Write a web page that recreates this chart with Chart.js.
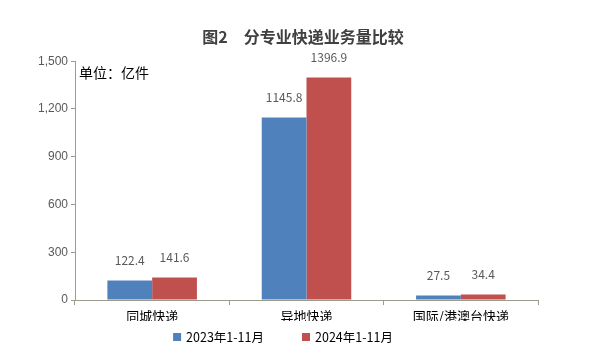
<!DOCTYPE html>
<html>
<head>
<meta charset="utf-8">
<script src="https://cdn.jsdelivr.net/npm/chart.js@4.4.1/dist/chart.umd.min.js"></script>
<style>
  html, body { margin: 0; padding: 0; background: #ffffff; }
  #wrap { width: 606px; height: 361px; }
</style>
</head>
<body>
<div id="wrap"><canvas id="c" width="606" height="361"></canvas></div>
<script>
const categories = ['同城快递', '异地快递', '国际/港澳台快递'];
const series2023 = [122.4, 1145.8, 27.5];
const series2024 = [141.6, 1396.9, 34.4];
const seriesNames = ['2023年1-11月', '2024年1-11月'];
const yTicks = [0, 300, 600, 900, 1200, 1500];
const titleText = '图2\u3000分专业快递业务量比较';
const unitText = '单位：亿件';

const FONT = '"Noto Sans CJK SC", "Noto Sans", sans-serif';
const COLORS = ['#4f81bd', '#c0504d'];
const AXIS = '#9d9b8b';

const extras = {
  id: 'extras',
  afterDatasetsDraw(chart) {
    const ctx = chart.ctx;
    ctx.save();
    // data labels
    ctx.font = '12px ' + FONT;
    ctx.fillStyle = '#595959';
    ctx.textAlign = 'center';
    ctx.textBaseline = 'middle';
    chart.data.datasets.forEach((ds, i) => {
      const meta = chart.getDatasetMeta(i);
      meta.data.forEach((bar, j) => {
        ctx.fillText(ds.data[j].toFixed(1), bar.x, bar.y - 20);
      });
    });
    // unit text
    ctx.font = '14px ' + FONT;
    ctx.fillStyle = '#000000';
    ctx.textAlign = 'left';
    ctx.fillText(unitText, chart.chartArea.left + 4, chart.chartArea.top + 11);
    // legend
    const ly = 337;
    ctx.font = '12.5px ' + FONT;
    const items = chart.data.datasets.map((ds, i) => ({ text: ds.label, color: COLORS[i], w: ctx.measureText(ds.label).width }));
    const box = 8, gapBoxText = 5, gapItems = 38;
    let total = 0;
    items.forEach((it, i) => { total += box + gapBoxText + it.w + (i < items.length - 1 ? gapItems : 0); });
    let x = 283 - total / 2;
    items.forEach(it => {
      ctx.fillStyle = it.color;
      ctx.fillRect(x, ly - box / 2, box, box);
      x += box + gapBoxText;
      ctx.fillStyle = '#000000';
      ctx.fillText(it.text, x, ly);
      x += it.w + gapItems;
    });
    ctx.restore();
  }
};

new Chart(document.getElementById('c'), {
  type: 'bar',
  data: {
    labels: categories,
    datasets: [
      { label: seriesNames[0], data: series2023, backgroundColor: COLORS[0], categoryPercentage: 0.58, barPercentage: 1.0 },
      { label: seriesNames[1], data: series2024, backgroundColor: COLORS[1], categoryPercentage: 0.58, barPercentage: 1.0 }
    ]
  },
  options: {
    responsive: false,
    animation: false,
    devicePixelRatio: 1,
    layout: { padding: { left: 0, right: 0, top: 0, bottom: 40 } },
    plugins: {
      legend: { display: false },
      tooltip: { enabled: false },
      title: {
        display: true,
        text: titleText,
        color: '#404040',
        font: { family: FONT, size: 16, weight: 'bold' },
        padding: { top: 27, bottom: 15 }
      }
    },
    scales: {
      x: {
        offset: true,
        grid: { display: true, drawOnChartArea: false, offset: true, color: AXIS, tickLength: 5, tickColor: AXIS },
        border: { display: true, color: AXIS, width: 1 },
        ticks: { color: '#000000', font: { family: FONT, size: 13 }, padding: 3 },
        afterFit(scale) { scale.height = 21; }
      },
      y: {
        min: 0, max: 1500,
        afterBuildTicks(scale) { scale.ticks = yTicks.map(v => ({ value: v })); },
        grid: { display: true, drawOnChartArea: false, color: AXIS, tickLength: 4, tickColor: AXIS },
        border: { display: true, color: AXIS, width: 1 },
        ticks: {
          color: '#595959', font: { family: '"Liberation Sans", "DejaVu Sans", sans-serif', size: 12 }, padding: 3,
          callback: (v) => v.toLocaleString('en-US')
        },
        afterFit(scale) { scale.width = 75; }
      },
      yRight: {
        position: 'right',
        min: 0, max: 1500,
        grid: { display: false },
        border: { display: false },
        ticks: { display: false },
        afterFit(scale) { scale.width = 68; }
      }
    }
  },
  plugins: [extras]
});
</script>
</body>
</html>
